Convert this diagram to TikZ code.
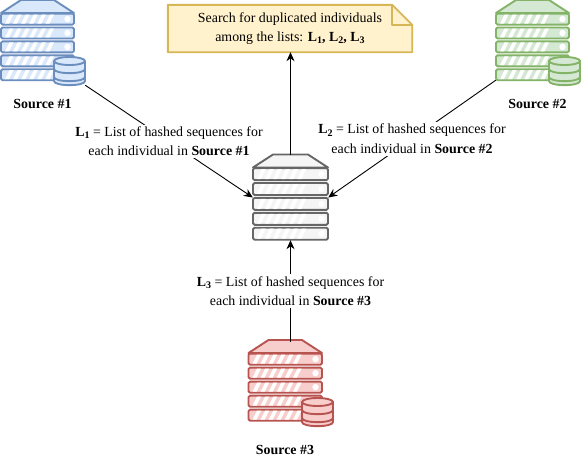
\documentclass[tikz,border=0pt]{standalone}
\usepackage{fontspec}
\setmainfont{Liberation Serif}
\usetikzlibrary{arrows.meta,positioning,calc}

\definecolor{blueline}{HTML}{6C8EBF}
\definecolor{bluefill}{HTML}{DAE8FC}
\definecolor{greenline}{HTML}{82B366}
\definecolor{greenfill}{HTML}{D5E8D4}
\definecolor{redline}{HTML}{B85450}
\definecolor{redfill}{HTML}{F8CECC}
\definecolor{grayline}{HTML}{666666}
\definecolor{grayfill}{HTML}{F5F5F5}
\definecolor{noteline}{HTML}{D6B656}
\definecolor{notefill}{HTML}{FFF2CC}

\newcommand{\Lsub}[1]{\textbf{L\raisebox{-.35ex}{\fontsize{10}{10}\selectfont #1}}}

% rack: left x, top y of the rows, width, row pitch, line colour, fill colour
\newcommand{\hostrack}[6]{
  \draw[rackline,draw=#5,fill=#6] (#1,#2) -- ++(20,-13) -- ++(#3-40,0) -- ++(20,13) -- cycle;
  \foreach \r in {0,...,4}{
    \draw[rackline,draw=#5,fill=#6,rounded corners=1.5pt] (#1,#2+.6+\r*#4) rectangle ++(#3,#4-2.9);
    \foreach \s in {0,...,5}
      \fill[white] (#1+4+\s*8.1,#2+\r*#4+#4-3.4) -- ++(4,0) -- ++(4.5,-#4+5) -- ++(-4,0) -- cycle;
    \fill[white] (#1+#3-6.5,#2+.6+\r*#4+#4/2-1.45) circle[radius=3.2];
  }
}
% drum: left x, top y, line colour, fill colour
\newcommand{\datadrum}[4]{
  \draw[rackline,draw=#3,fill=#4] (#1,#2+4) -- (#1,#2+24) .. controls (#1,#2+29.5) and (#1+31,#2+29.5) .. (#1+31,#2+24) -- (#1+31,#2+4) -- cycle;
  \draw[rackline,draw=#3,fill=#4] (#1+15.5,#2+4) ellipse[x radius=15.5,y radius=4];
  \foreach \b in {12,20}
    \draw[rackline,draw=#3] (#1,#2+\b) .. controls (#1,#2+\b+5.5) and (#1+31,#2+\b+5.5) .. (#1+31,#2+\b);
}

\begin{document}
\begin{tikzpicture}[>=Stealth,x=1pt,y=-1pt,
  font=\fontsize{13.9}{19.6}\selectfont,
  rackline/.style={line width=1.9pt,line join=round},
  hostbox/.style={inner sep=0pt,minimum width=#1,minimum height=80pt},
  hostbox/.default=73pt,
  drumbox/.style={inner sep=0pt,minimum width=31pt,minimum height=28pt},
  lbl/.style={fill=white,align=center,inner sep=2pt},
  srccap/.style={font=\fontsize{13.9}{16}\selectfont\bfseries,inner sep=0pt},
  link/.style={->,line width=.9pt,>={Stealth[length=9pt,width=8pt]}}]

  \useasboundingbox (0,0) rectangle (582,461);

  % the racks
  \hostrack{1}{13}{73}{13.9}{blueline}{bluefill}
  \hostrack{496}{13}{73}{13.9}{greenline}{greenfill}
  \hostrack{248.5}{353}{73.5}{14}{redline}{redfill}
  \hostrack{253}{167.5}{75}{14.9}{grayline}{grayfill}
  \datadrum{54}{57}{blueline}{bluefill}
  \datadrum{549}{57}{greenline}{greenfill}
  \datadrum{302}{398}{redline}{redfill}

  \node[hostbox] (src1) at (37.5,40) {};
  \node[hostbox] (src2) at (532.5,40) {};
  \node[hostbox] (src3) at (285,382) {};
  \node[hostbox=75pt,minimum height=85pt] (hub) at (290.5,197.5) {};
  \node[drumbox] (drum1) at (69.5,71) {};

  \node[srccap] (cap1) at (42.5,104) {Source \#1};
  \node[srccap] (cap2) at (537.5,104) {Source \#2};
  \node[srccap] (cap3) at (285,450) {Source \#3};

  % note with folded corner
  \node[inner sep=0pt,minimum width=244pt,minimum height=47pt] (note) at (290,28.5) {};
  \draw[rackline,draw=noteline,fill=notefill]
    (note.north west) -- ($(note.north east)+(-20,0)$) -- ($(note.north east)+(0,20)$)
    |- (note.south west) -- cycle;
  \draw[rackline,draw=noteline]
    ($(note.north east)+(-20,0)$) -- ++(0,20) -- ($(note.north east)+(0,20)$);
  \node[align=center,inner sep=0pt] (notetext) at (note.center)
    {Search for duplicated individuals\\among the lists: \Lsub{1}\textbf{,} \Lsub{2}\textbf{,} \Lsub{3}};

  \draw[link] (drum1.south east) -- node[lbl]
    {\Lsub{1} = List of hashed sequences for\\each individual in \textbf{Source \#1}} (hub.west);
  \draw[link] (src2.south west) -- node[lbl]
    {\Lsub{2} = List of hashed sequences for\\each individual in \textbf{Source \#2}} (hub.east);
  \draw[link] (src3.north -| hub.north) -- node[lbl]
    {\Lsub{3} = List of hashed sequences for\\each individual in \textbf{Source \#3}} (hub.south);
  \draw[link] (hub.north) -- (hub.north |- note.south);
\end{tikzpicture}
\end{document}
